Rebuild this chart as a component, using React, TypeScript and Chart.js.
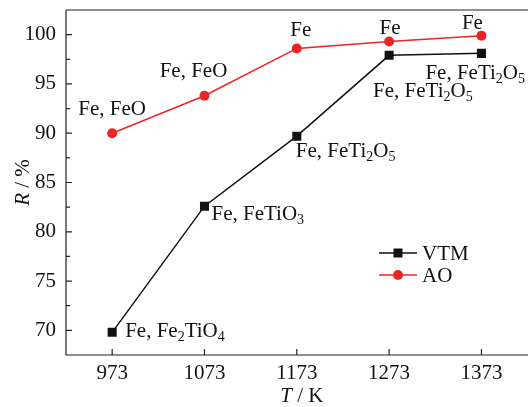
import { useEffect, useRef } from "react";
import { Chart, registerables } from "chart.js";

Chart.register(...registerables);

// Reduction temperature (K) and metallization degree R (%)
const TEMPERATURES = [973, 1073, 1173, 1273, 1373];
const VTM_VALUES = [69.8, 82.6, 89.7, 97.9, 98.1];
const AO_VALUES = [90.0, 93.8, 98.6, 99.3, 99.9];

// Phase labels; "_x" marks a subscript character
const VTM_PHASES = ["Fe, Fe_2TiO_4", "Fe, FeTiO_3", "Fe, FeTi_2O_5", "Fe, FeTi_2O_5", "Fe, FeTi_2O_5"];
const AO_PHASES = ["Fe, FeO", "Fe, FeO", "Fe", "Fe", "Fe"];

const SERIES_NAMES = ["VTM", "AO"];
const X_TICKS = [973, 1073, 1173, 1273, 1373];
const Y_TICKS = [70, 75, 80, 85, 90, 95, 100];
const Y_MINOR_TICKS = [72.5, 77.5, 82.5, 87.5, 92.5, 97.5];

const X_MIN = 923;
const X_MAX = 1423;
const Y_MIN = 67.5;
const Y_MAX = 102.5;

const BLACK = "#111111";
const RED = "#ee2424";
const FONT_FAMILY = '"Liberation Serif", "Times New Roman", serif';
const FONT_SIZE = 21;
const SUB_SIZE = 14;

// the plot continues past the right edge of the visible page
const CANVAS_W = 534;
const CANVAS_H = 407;

// label placement relative to each point: [dx, dy] in px
const VTM_LABEL_OFFSETS = [[13, 5], [7, 14], [-1, 21], [-16, 42], [-56, 26]];
const AO_LABEL_OFFSETS = [[0, -18], [-11, -19], [4, -12], [1, -8], [-9, -7]];

type Seg = { text: string; sub: boolean };

function parseRich(s: string): Seg[] {
  const segs: Seg[] = [];
  let i = 0;
  let cur = "";
  while (i < s.length) {
    if (s[i] === "_" && i + 1 < s.length) {
      if (cur) segs.push({ text: cur, sub: false });
      cur = "";
      segs.push({ text: s[i + 1], sub: true });
      i += 2;
    } else {
      cur += s[i];
      i += 1;
    }
  }
  if (cur) segs.push({ text: cur, sub: false });
  return segs;
}

function richWidth(ctx: CanvasRenderingContext2D, segs: Seg[]) {
  let w = 0;
  for (const sg of segs) {
    ctx.font = `${sg.sub ? SUB_SIZE : FONT_SIZE}px ${FONT_FAMILY}`;
    w += ctx.measureText(sg.text).width;
  }
  return w;
}

function drawRich(ctx: CanvasRenderingContext2D, s: string, x: number, y: number, align: "left" | "center") {
  const segs = parseRich(s);
  let cx = align === "center" ? x - richWidth(ctx, segs) / 2 : x;
  ctx.textAlign = "left";
  ctx.textBaseline = "alphabetic";
  for (const sg of segs) {
    ctx.font = `${sg.sub ? SUB_SIZE : FONT_SIZE}px ${FONT_FAMILY}`;
    ctx.fillText(sg.text, cx, sg.sub ? y + 4 : y);
    cx += ctx.measureText(sg.text).width;
  }
}

const decorPlugin = {
  id: "decor",
  afterDraw(chart: any) {
    const { ctx, chartArea, scales } = chart;
    const xs = scales.x;
    const ys = scales.y;
    const { left, right, top, bottom } = chartArea;
    ctx.save();

    // frame: left, bottom, top
    ctx.strokeStyle = "#222222";
    ctx.lineWidth = 1.2;
    ctx.beginPath();
    ctx.moveTo(left, top);
    ctx.lineTo(left, bottom);
    ctx.lineTo(right + 6, bottom);
    ctx.moveTo(left, top);
    ctx.lineTo(right + 6, top);
    ctx.stroke();

    // inward tick marks
    ctx.beginPath();
    for (const v of Y_TICKS) {
      const py = ys.getPixelForValue(v);
      ctx.moveTo(left, py);
      ctx.lineTo(left + 6, py);
    }
    for (const v of Y_MINOR_TICKS) {
      const py = ys.getPixelForValue(v);
      ctx.moveTo(left, py);
      ctx.lineTo(left + 4, py);
    }
    for (const v of X_TICKS) {
      const px = xs.getPixelForValue(v);
      ctx.moveTo(px, bottom);
      ctx.lineTo(px, bottom - 6);
    }
    ctx.stroke();

    // phase annotations
    ctx.fillStyle = BLACK;
    TEMPERATURES.forEach((t, i) => {
      const px = xs.getPixelForValue(t);
      const pyV = ys.getPixelForValue(VTM_VALUES[i]);
      const [dxV, dyV] = VTM_LABEL_OFFSETS[i];
      drawRich(ctx, VTM_PHASES[i], px + dxV, pyV + dyV, "left");
      const pyA = ys.getPixelForValue(AO_VALUES[i]);
      const [dxA, dyA] = AO_LABEL_OFFSETS[i];
      drawRich(ctx, AO_PHASES[i], px + dxA, pyA + dyA, "center");
    });

    // axis titles
    const titleX = xs.getPixelForValue(1173) + 5;
    const titleY = 402;
    ctx.font = `italic ${FONT_SIZE}px ${FONT_FAMILY}`;
    const wT = ctx.measureText("T").width;
    ctx.font = `${FONT_SIZE}px ${FONT_FAMILY}`;
    const wRest = ctx.measureText(" / K").width;
    let sx = titleX - (wT + wRest) / 2;
    ctx.textAlign = "left";
    ctx.textBaseline = "alphabetic";
    ctx.font = `italic ${FONT_SIZE}px ${FONT_FAMILY}`;
    ctx.fillText("T", sx, titleY);
    ctx.font = `${FONT_SIZE}px ${FONT_FAMILY}`;
    ctx.fillText(" / K", sx + wT, titleY);

    ctx.save();
    ctx.translate(29, (top + bottom) / 2);
    ctx.rotate(-Math.PI / 2);
    ctx.font = `italic ${FONT_SIZE}px ${FONT_FAMILY}`;
    const wR = ctx.measureText("R").width;
    ctx.font = `${FONT_SIZE}px ${FONT_FAMILY}`;
    const wP = ctx.measureText(" / %").width;
    sx = -(wR + wP) / 2;
    ctx.font = `italic ${FONT_SIZE}px ${FONT_FAMILY}`;
    ctx.fillText("R", sx, 0);
    ctx.font = `${FONT_SIZE}px ${FONT_FAMILY}`;
    ctx.fillText(" / %", sx + wR, 0);
    ctx.restore();

    // legend
    const legendRows = [
      { name: SERIES_NAMES[0], color: BLACK, square: true, y: 253 },
      { name: SERIES_NAMES[1], color: RED, square: false, y: 275 },
    ];
    for (const row of legendRows) {
      ctx.strokeStyle = row.color;
      ctx.lineWidth = 1.5;
      ctx.beginPath();
      ctx.moveTo(379, row.y);
      ctx.lineTo(417, row.y);
      ctx.stroke();
      ctx.fillStyle = row.color;
      if (row.square) {
        ctx.fillRect(398 - 4.5, row.y - 4.5, 9, 9);
      } else {
        ctx.beginPath();
        ctx.arc(398, row.y, 5, 0, Math.PI * 2);
        ctx.fill();
      }
      ctx.fillStyle = BLACK;
      ctx.font = `${FONT_SIZE}px ${FONT_FAMILY}`;
      ctx.textAlign = "left";
      ctx.textBaseline = "middle";
      ctx.fillText(row.name, 422, row.y + 1);
    }

    ctx.restore();
  },
};

function clearScalePadding(scale: any) {
  scale.paddingTop = 0;
  scale.paddingBottom = 0;
  scale.paddingLeft = 0;
  scale.paddingRight = 0;
}

export default function App() {
  const canvasRef = useRef<HTMLCanvasElement | null>(null);

  useEffect(() => {
    const canvas = canvasRef.current;
    if (!canvas) return;
    const chart = new Chart(canvas, {
      type: "line",
      data: {
        datasets: [
          {
            label: SERIES_NAMES[0],
            data: TEMPERATURES.map((t, i) => ({ x: t, y: VTM_VALUES[i] })),
            borderColor: BLACK,
            backgroundColor: BLACK,
            borderWidth: 1.5,
            pointStyle: "rect",
            pointRadius: 6.4,
            pointBorderWidth: 0,
            tension: 0,
          },
          {
            label: SERIES_NAMES[1],
            data: TEMPERATURES.map((t, i) => ({ x: t, y: AO_VALUES[i] })),
            borderColor: RED,
            backgroundColor: RED,
            borderWidth: 1.5,
            pointStyle: "circle",
            pointRadius: 5,
            pointBorderWidth: 0,
            tension: 0,
          },
        ],
      },
      options: {
        animation: false,
        responsive: false,
        devicePixelRatio: 1,
        layout: { padding: { top: 10, right: 0, left: 0, bottom: 0 } },
        plugins: {
          legend: { display: false },
          tooltip: { enabled: false },
        },
        scales: {
          x: {
            type: "linear",
            min: X_MIN,
            max: X_MAX,
            grid: { display: false, drawTicks: false },
            border: { display: false },
            afterBuildTicks: (scale: any) => {
              scale.ticks = X_TICKS.map((v) => ({ value: v }));
            },
            afterFit: (scale: any) => {
              scale.height = 52;
              clearScalePadding(scale);
            },
            ticks: {
              padding: 6,
              color: BLACK,
              maxRotation: 0,
              autoSkip: false,
              font: { family: FONT_FAMILY, size: FONT_SIZE },
              callback: (v: any) => String(v),
            },
          },
          y: {
            type: "linear",
            min: Y_MIN,
            max: Y_MAX,
            grid: { display: false, drawTicks: false },
            border: { display: false },
            afterBuildTicks: (scale: any) => {
              scale.ticks = Y_TICKS.map((v) => ({ value: v }));
            },
            afterFit: (scale: any) => {
              scale.width = 66;
              clearScalePadding(scale);
            },
            ticks: {
              padding: 10,
              color: BLACK,
              autoSkip: false,
              font: { family: FONT_FAMILY, size: FONT_SIZE },
              callback: (v: any) => String(v),
            },
          },
        },
      },
      plugins: [decorPlugin],
    });
    return () => chart.destroy();
  }, []);

  return (
    <div style={{ position: "fixed", left: 0, top: 0, width: 528, height: 407, overflow: "hidden", background: "#ffffff" }}>
      <canvas ref={canvasRef} width={CANVAS_W} height={CANVAS_H} style={{ display: "block" }} />
    </div>
  );
}
